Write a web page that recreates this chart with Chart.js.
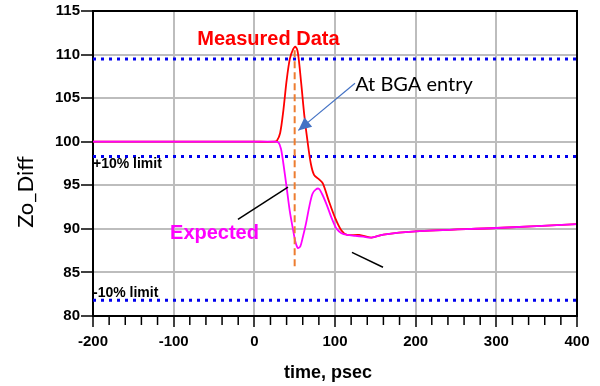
<!DOCTYPE html>
<html>
<head>
<meta charset="utf-8">
<script src="https://cdn.jsdelivr.net/npm/chart.js@4.4.1/dist/chart.umd.min.js"></script>
<style>
  html, body { margin: 0; padding: 0; background: #fff; }
  #wrap { width: 600px; height: 386px; position: relative; }
</style>
</head>
<body>
<div id="wrap"><canvas id="tdr"></canvas></div>
<script>
// tiempos (psec) y valores de impedancia diferencial
const measuredTime = [-200, 0, 25, 28, 32, 36, 40, 44, 48, 51, 54, 58, 62, 66, 70, 74, 80, 85, 92, 100, 108, 115, 130, 145, 160, 200, 300, 400];
const measuredZo   = [100, 100, 100, 100.1, 101, 103.6, 107, 109.5, 110.6, 110.9, 110.2, 106.8, 103, 100, 97.5, 96.2, 95.7, 95.2, 93.3, 91.3, 89.8, 89.3, 89.3, 89.0, 89.35, 89.7, 90.1, 90.55];

const expectedTime = [-200, 0, 25, 30, 33, 36, 40, 44, 48, 51, 54, 57, 60, 64, 68, 72, 76, 80, 84, 90, 96, 102, 108, 115, 125, 135, 145, 160, 200, 300, 400];
const expectedZo   = [100, 100, 100, 99.9, 99.2, 97.5, 94.8, 92, 89.9, 88.5, 87.8, 88.0, 89.0, 90.6, 92.5, 94.0, 94.5, 94.6, 94.0, 92.7, 91.2, 90.0, 89.5, 89.3, 89.2, 89.1, 89.0, 89.35, 89.7, 90.1, 90.55];

// limites y marcas
const limitLevels = [109.5, 98.3, 81.8];
const bgaTime = 50;
const bgaRange = [110.5, 85.7];
const xTicks = [-200, -100, 0, 100, 200, 300, 400];
const yTicks = [80, 85, 90, 95, 100, 105, 110, 115];

// lineas de anotación
const arrowPts = [[124.8, 106.7], [54.5, 101.3]];
const leaderExpected = [[-20.3, 91.1], [41.7, 94.8]];
const leaderMeasured = [[121, 87.3], [159.5, 85.6]];

const labels = [
  { text: 'Measured Data', x: 17.5, y: 111.7, align: 'center', color: '#ff0000', font: 'bold 20px "Liberation Sans", Arial' },
  { text: 'At BGA entry', x: 125, y: 106.6, align: 'left', color: '#000', font: '20px Lato, "Open Sans"' },
  { text: 'Expected', x: -104.5, y: 89.5, align: 'left', color: '#ff00ff', font: 'bold 20px "Liberation Sans", Arial' },
  { text: '+10% limit', x: -200, y: 97.4, align: 'left', color: '#000', font: 'bold 14px "Liberation Sans", Arial' },
  { text: '-10% limit', x: -200, y: 82.6, align: 'left', color: '#000', font: 'bold 14px "Liberation Sans", Arial' }
];

const toPts = (xs, ys) => xs.map((x, i) => ({ x: x, y: ys[i] }));
const segPts = (pts) => pts.map(p => ({ x: p[0], y: p[1] }));

const datasets = [];
limitLevels.forEach(v => {
  datasets.push({
    data: [{ x: -200, y: v }, { x: 400, y: v }],
    borderColor: '#0000ee', borderWidth: 3, borderDash: [3, 5], pointRadius: 0, order: 5
  });
});
datasets.push({ data: toPts(measuredTime, measuredZo), borderColor: '#ff0000', borderWidth: 1.8, pointRadius: 0, tension: 0.3, order: 4 });
datasets.push({ data: toPts(expectedTime, expectedZo), borderColor: '#ff00ff', borderWidth: 1.8, pointRadius: 0, tension: 0.3, order: 3 });
datasets.push({
  data: [{ x: bgaTime, y: bgaRange[0] }, { x: bgaTime, y: bgaRange[1] }],
  borderColor: '#ed7d31', borderWidth: 2, borderDash: [7, 4], pointRadius: 0, order: 2
});
datasets.push({ data: segPts(leaderExpected), borderColor: '#000', borderWidth: 1.5, pointRadius: 0, order: 1 });
datasets.push({ data: segPts(leaderMeasured), borderColor: '#000', borderWidth: 1.5, pointRadius: 0, order: 1 });
datasets.push({ data: segPts(arrowPts), borderColor: '#4472c4', borderWidth: 1.2, pointRadius: 0, order: 0 });

// plugin: marco, textos, flecha y ticks menores
const decor = {
  id: 'decor',
  afterDatasetsDraw(chart) {
    const c = chart.ctx, xs = chart.scales.x, ys = chart.scales.y, a = chart.chartArea;
    c.save();
    // flecha
    const p0 = { x: xs.getPixelForValue(arrowPts[0][0]), y: ys.getPixelForValue(arrowPts[0][1]) };
    const p1 = { x: xs.getPixelForValue(arrowPts[1][0]), y: ys.getPixelForValue(arrowPts[1][1]) };
    const ang = Math.atan2(p1.y - p0.y, p1.x - p0.x);
    c.fillStyle = '#4472c4';
    c.beginPath();
    c.moveTo(p1.x, p1.y);
    c.lineTo(p1.x - 13 * Math.cos(ang) + 6 * Math.sin(ang), p1.y - 13 * Math.sin(ang) - 6 * Math.cos(ang));
    c.lineTo(p1.x - 13 * Math.cos(ang) - 6 * Math.sin(ang), p1.y - 13 * Math.sin(ang) + 6 * Math.cos(ang));
    c.closePath();
    c.fill();
    // marco
    c.strokeStyle = '#000';
    c.lineWidth = 2;
    c.beginPath();
    c.moveTo(a.left, a.top); c.lineTo(a.right, a.top); c.lineTo(a.right, a.bottom);
    c.stroke();
    // ticks menores
    c.lineWidth = 1.5;
    for (let t = -200; t <= 400; t += 20) {
      if (t % 100 === 0) continue;
      const px = xs.getPixelForValue(t);
      c.beginPath(); c.moveTo(px, a.bottom); c.lineTo(px, a.bottom + 9); c.stroke();
    }
    // textos
    c.textBaseline = 'middle';
    labels.forEach(l => {
      c.font = l.font; c.fillStyle = l.color; c.textAlign = l.align;
      c.fillText(l.text, xs.getPixelForValue(l.x), ys.getPixelForValue(l.y));
    });
    // títulos de ejes
    c.fillStyle = '#000';
    c.textAlign = 'center';
    c.font = 'bold 18px "Liberation Sans", Arial';
    c.fillText('time, psec', 328, 373);
    c.save();
    c.translate(26, 192);
    c.rotate(-Math.PI / 2);
    c.font = '22px Lato, "Open Sans"';
    c.fillText('Zo_Diff', 0, 0);
    c.restore();
    c.restore();
  }
};

const ctx = document.getElementById('tdr').getContext('2d');
new Chart(ctx, {
  type: 'line',
  data: { datasets: datasets },
  options: {
    responsive: true,
    maintainAspectRatio: false,
    animation: false,
    layout: { padding: { top: 11, right: 23, left: 0, bottom: 0 } },
    plugins: { legend: { display: false }, tooltip: { enabled: false } },
    scales: {
      x: {
        type: 'linear', min: -200, max: 400,
        afterBuildTicks: s => { s.ticks = xTicks.map(v => ({ value: v })); },
        afterFit: s => { s.height = 70; },
        grid: { color: '#bdbdbd', lineWidth: 2, tickLength: 11, tickColor: '#000', tickWidth: 1.5 },
        border: { color: '#000', width: 2 },
        ticks: { color: '#000', font: { family: '"Liberation Sans", Arial', size: 15, weight: 'bold' }, padding: 6, maxRotation: 0 }
      },
      y: {
        min: 80, max: 115,
        afterBuildTicks: s => { s.ticks = yTicks.map(v => ({ value: v })); },
        afterFit: s => { s.width = 93; },
        grid: { color: '#bdbdbd', lineWidth: 2, tickLength: 12, tickColor: '#000', tickWidth: 1.5 },
        border: { color: '#000', width: 2 },
        ticks: { color: '#000', font: { family: '"Liberation Sans", Arial', size: 15, weight: 'bold' }, padding: 1 }
      }
    }
  },
  plugins: [decor]
});
</script>
</body>
</html>
